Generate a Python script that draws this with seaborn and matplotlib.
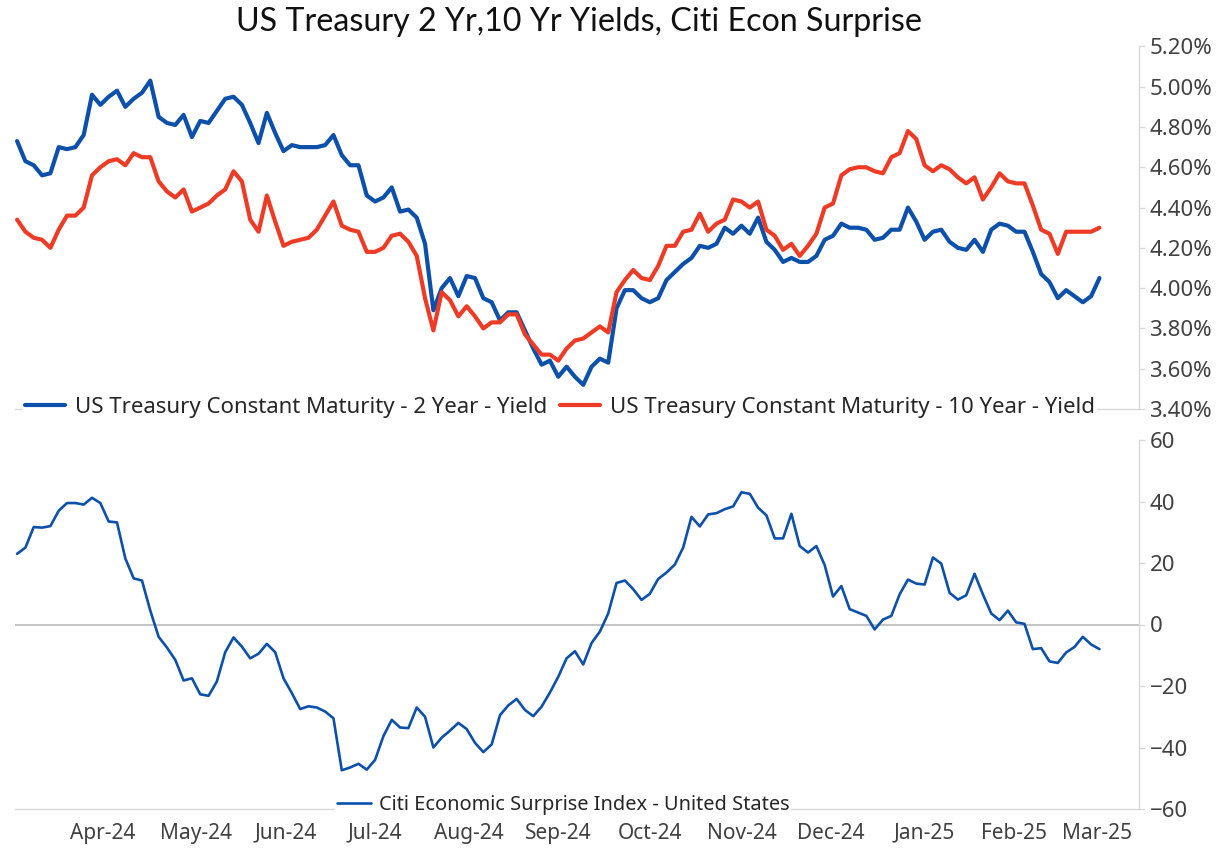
import numpy as np
import pandas as pd
import matplotlib.pyplot as plt
import seaborn as sns

# Dados (um ponto a cada 2 dias úteis)
start_date = "2024-03-18"
last_data_date = "2025-03-17"
axis_end_date = "2025-03-28"

ust_2y = [4.73, 4.63, 4.61, 4.56, 4.57, 4.70, 4.69, 4.70, 4.76, 4.96,
          4.91, 4.95, 4.98, 4.90, 4.94, 4.97, 5.03, 4.85, 4.82, 4.81,
          4.86, 4.75, 4.83, 4.82, 4.88, 4.94, 4.95, 4.91, 4.82, 4.72,
          4.87, 4.77, 4.68, 4.71, 4.70, 4.70, 4.70, 4.71, 4.76, 4.66,
          4.61, 4.61, 4.46, 4.43, 4.45, 4.50, 4.38, 4.39, 4.35, 4.22,
          3.89, 4.00, 4.05, 3.96, 4.06, 4.05, 3.95, 3.93, 3.84, 3.88,
          3.88, 3.79, 3.70, 3.62, 3.64, 3.56, 3.61, 3.56, 3.52, 3.61,
          3.65, 3.63, 3.90, 3.99, 3.99, 3.95, 3.93, 3.95, 4.04, 4.08,
          4.12, 4.15, 4.21, 4.20, 4.22, 4.30, 4.27, 4.31, 4.27, 4.35,
          4.23, 4.19, 4.13, 4.15, 4.13, 4.13, 4.16, 4.24, 4.26, 4.32,
          4.30, 4.30, 4.29, 4.24, 4.25, 4.29, 4.29, 4.40, 4.33, 4.24,
          4.28, 4.29, 4.23, 4.20, 4.19, 4.24, 4.18, 4.29, 4.32, 4.31,
          4.28, 4.28, 4.18, 4.07, 4.03, 3.95, 3.99, 3.96, 3.93, 3.96,
          4.05]

ust_10y = [4.34, 4.28, 4.25, 4.24, 4.20, 4.29, 4.36, 4.36, 4.40, 4.56,
           4.60, 4.63, 4.64, 4.61, 4.67, 4.65, 4.65, 4.53, 4.48, 4.45,
           4.49, 4.38, 4.40, 4.42, 4.46, 4.49, 4.58, 4.53, 4.34, 4.28,
           4.46, 4.33, 4.21, 4.23, 4.24, 4.25, 4.29, 4.36, 4.43, 4.31,
           4.29, 4.28, 4.18, 4.18, 4.20, 4.26, 4.27, 4.23, 4.16, 3.95,
           3.79, 3.98, 3.94, 3.86, 3.91, 3.86, 3.80, 3.83, 3.83, 3.87,
           3.87, 3.77, 3.72, 3.67, 3.67, 3.64, 3.70, 3.74, 3.75, 3.78,
           3.81, 3.78, 3.98, 4.04, 4.09, 4.05, 4.04, 4.11, 4.21, 4.21,
           4.28, 4.29, 4.37, 4.28, 4.32, 4.34, 4.44, 4.43, 4.40, 4.43,
           4.29, 4.26, 4.19, 4.22, 4.16, 4.21, 4.27, 4.40, 4.42, 4.56,
           4.59, 4.60, 4.60, 4.58, 4.57, 4.65, 4.67, 4.78, 4.74, 4.61,
           4.58, 4.61, 4.59, 4.55, 4.52, 4.55, 4.44, 4.50, 4.57, 4.53,
           4.52, 4.52, 4.41, 4.29, 4.27, 4.17, 4.28, 4.28, 4.28, 4.28,
           4.30]

citi_surprise = [23, 25, 31.7, 31.5, 32, 37, 39.5, 39.5, 39, 41.2,
                 39.5, 33.5, 33.2, 21.5, 15, 14.3, 4.5, -4, -7.5, -11.5,
                 -18.2, -17.5, -22.7, -23.2, -18.5, -9, -4.2, -7.2, -11, -9.5,
                 -6.3, -9, -17.5, -22.3, -27.5, -26.6, -27, -28.3, -30.5, -47.4,
                 -46.5, -45.3, -47.2, -44, -36.3, -31, -33.5, -33.7, -27, -30,
                 -40, -36.8, -34.5, -32, -34, -38.5, -41.5, -39, -29.5, -26.3,
                 -24.2, -27.8, -29.8, -26.7, -22.1, -17, -11, -8.7, -13, -6,
                 -2.3, 3.6, 13.5, 14.3, 11.5, 8, 10, 14.8, 16.9, 19.5,
                 25, 35, 31.9, 35.8, 36.2, 37.5, 38.4, 43, 42.5, 38,
                 35.5, 28, 28, 36, 25.5, 23.4, 25.5, 19.3, 9.1, 12.5,
                 5, 3.9, 2.8, -1.6, 1.6, 2.8, 9.8, 14.6, 13.3, 13,
                 21.8, 19.8, 10.3, 8.1, 9.5, 16.5, 9.8, 3.6, 1.4, 4.5,
                 0.7, 0.2, -8, -7.7, -12, -12.5, -9.1, -7.3, -4, -6.5,
                 -8]

month_labels = ["Apr-24", "May-24", "Jun-24", "Jul-24", "Aug-24", "Sep-24",
                "Oct-24", "Nov-24", "Dec-24", "Jan-25", "Feb-25", "Mar-25"]

title = "US Treasury 2 Yr,10 Yr Yields, Citi Econ Surprise"
label_2y = "US Treasury Constant Maturity - 2 Year - Yield"
label_10y = "US Treasury Constant Maturity - 10 Year - Yield"
label_citi = "Citi Economic Surprise Index - United States"

blue = "#0D50AA"
red = "#EE3B25"
grey_axis = "#D9D9D9"
text_color = "#404040"

# Eixo de categorias em dias úteis (como no Excel)
days = pd.bdate_range(start_date, axis_end_date)
dates = pd.bdate_range(start_date, last_data_date)[::2]
df = pd.DataFrame({"date": dates, "y2": ust_2y, "y10": ust_10y, "citi": citi_surprise})
df["pos"] = days.get_indexer(df["date"])

month_starts = pd.date_range("2024-04-01", "2025-03-01", freq="MS")
bounds = [days.searchsorted(m) - 0.5 for m in month_starts] + [len(days) - 0.5]
centers = [(a + b) / 2 for a, b in zip(bounds[:-1], bounds[1:])]

sns.set_style("white")
plt.rcParams["font.family"] = ["Noto Sans", "DejaVu Sans"]

W, H = 1218, 849
fig = plt.figure(figsize=(W / 100, H / 100), dpi=100)
ax1 = fig.add_axes([15 / W, 1 - 409 / H, 1124 / W, (409 - 46.4) / H])
ax2 = fig.add_axes([15 / W, 1 - 809 / H, 1124 / W, (809 - 440) / H])

sns.lineplot(data=df, x="pos", y="y2", ax=ax1, color=blue, lw=3.0, label=label_2y)
sns.lineplot(data=df, x="pos", y="y10", ax=ax1, color=red, lw=3.0, label=label_10y)
sns.lineplot(data=df, x="pos", y="citi", ax=ax2, color=blue, lw=1.9, label=label_citi)
ax2.axhline(0, color="#BFBFBF", lw=1.3, zorder=1)

for ax in (ax1, ax2):
    ax.set_xlim(-0.5, len(days) - 0.5)
    ax.set_xlabel("")
    ax.set_ylabel("")
    ax.yaxis.tick_right()
    for s in ("left", "top"):
        ax.spines[s].set_visible(False)
    for s in ("right", "bottom"):
        ax.spines[s].set_color(grey_axis)
        ax.spines[s].set_linewidth(1.0)
    ax.set_xticks(bounds[:-1])
    ax.set_xticklabels([])
    ax.tick_params(axis="x", which="major", length=7, color=grey_axis, width=1.0)
    ax.tick_params(axis="y", length=4.5, color=grey_axis, width=1.0, pad=3,
                   labelsize=16, labelcolor=text_color)

ax1.set_ylim(3.4, 5.2)
ax1.set_yticks(np.arange(3.4, 5.21, 0.2))
ax1.set_yticklabels([f"{v:.2f}%" for v in np.arange(3.4, 5.21, 0.2)])

ax2.set_ylim(-60, 60)
ax2.set_yticks(range(-60, 61, 20))
ax2.set_xticks(centers, minor=True)
ax2.set_xticklabels(month_labels, minor=True)
ax2.tick_params(axis="x", which="minor", length=0, pad=10, labelsize=15, labelcolor=text_color)

leg1 = ax1.legend(ncol=2, loc="lower center", bbox_to_anchor=(0.485, -0.03), fontsize=16,
                  frameon=True, facecolor="white", edgecolor="none", framealpha=1,
                  handlelength=1.8, columnspacing=0.55, borderpad=0.1, handletextpad=0.45,
                  borderaxespad=0)
leg2 = ax2.legend(loc="lower center", bbox_to_anchor=(0.4875, -0.022), fontsize=14.4,
                  frameon=True, facecolor="white", edgecolor="none", framealpha=1,
                  handlelength=1.7, borderpad=0.1, handletextpad=0.4, borderaxespad=0)
for leg in (leg1, leg2):
    for t in leg.get_texts():
        t.set_color("#262626")

fig.text(578.5 / W, 1 - 22 / H, title, ha="center", va="center", fontsize=23.2,
         color="#111111", family=["Lato", "DejaVu Sans"])

fig.savefig("out.png", dpi=100)
